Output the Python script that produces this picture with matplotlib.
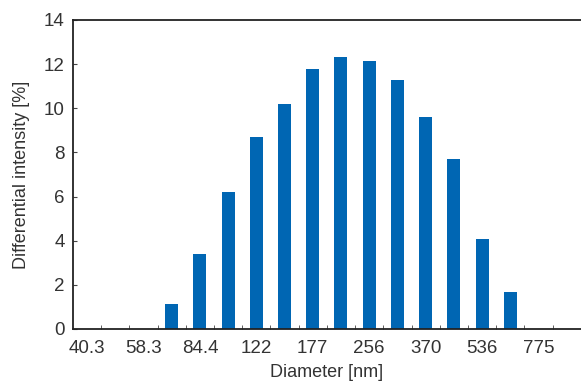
import matplotlib.pyplot as plt
import numpy as np

plt.rcParams['font.family'] = ['Liberation Sans', 'DejaVu Sans']

# diameter bins (nm), every other one labelled
diameters = [40.3, 48.5, 58.3, 70.2, 84.4, 101.5, 122, 147, 177, 213,
             256, 308, 370, 445, 536, 645, 775, 932]
intensity = [0, 0, 0, 1.13, 3.41, 6.2, 8.7, 10.19, 11.78, 12.3,
             12.15, 11.27, 9.59, 7.69, 4.08, 1.66, 0, 0]
tick_labels = ['40.3', '58.3', '84.4', '122', '177', '256', '370', '536', '775']

bar_color = '#0066b3'
text_color = '#333333'

fig = plt.figure(figsize=(5.81, 3.83), dpi=100)
ax = fig.add_axes([0.1256, 0.141, 0.874, 0.807])

x = np.arange(len(diameters))
ax.bar(x, intensity, width=0.46, color=bar_color)

ax.set_xlim(-0.5, 17.2)
ax.set_ylim(0, 14)
ax.set_yticks(range(0, 15, 2))

# label ticks at bin centres, small tick marks at bin edges
ax.set_xticks(x[::2])
ax.set_xticklabels(tick_labels)
ax.set_xticks(np.arange(len(diameters)) + 0.5, minor=True)
ax.tick_params(axis='x', which='major', length=0, pad=8)
ax.tick_params(axis='x', which='minor', direction='in', length=3, color='#444444')
ax.tick_params(axis='y', direction='in', length=3, color='#444444', pad=6)
ax.tick_params(labelsize=13.5, labelcolor=text_color)

for s in ['left', 'bottom', 'top']:
    ax.spines[s].set_linewidth(1.3)
    ax.spines[s].set_color('#222222')
ax.spines['right'].set_visible(False)

ax.set_xlabel('Diameter [nm]', fontsize=13, color=text_color, labelpad=5)
ax.set_ylabel('Differential intensity [%]', fontsize=13, color=text_color, labelpad=10)

fig.savefig('out.png', dpi=100)
